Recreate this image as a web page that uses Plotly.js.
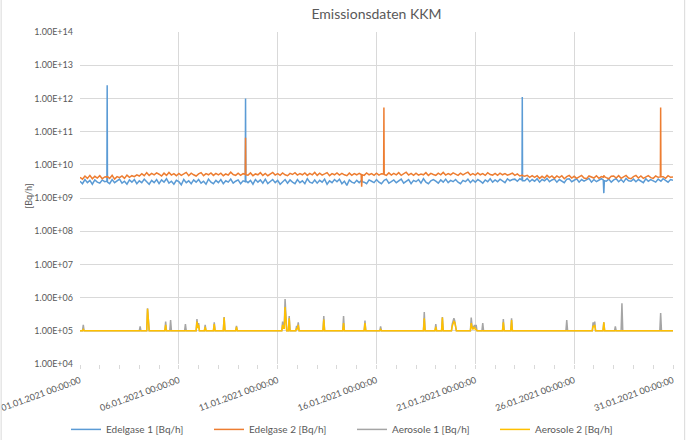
<!DOCTYPE html>
<html>
<head>
<meta charset="utf-8">
<script src="https://cdn.plot.ly/plotly-3.0.1.min.js"></script>
<style>
  html, body { margin: 0; padding: 0; background: #fff; }
  #chart { width: 690px; height: 440px; }
</style>
</head>
<body>
<div id="chart"></div>
<script>
'use strict';

// Edelgase: one reading every 3 hours from 01.01.2021 00:00 to 31.01.2021 00:00, in GBq/h
const edelStart = Date.UTC(2021, 0, 1);
const edelStepHours = 3;

const edelgase1GBq = [
	3.2, 2.7, 3.6, 2.9, 3.4, 2.6, 3.5, 3.0,
	2.8, 3.5, 3.1, 2500, 2.7, 3.6, 2.9, 3.3,
	3.7, 2.8, 3.2, 2.6, 3.5, 3.0, 3.6, 2.7,
	3.3, 2.9, 3.7, 3.1, 2.6, 3.4, 2.9, 3.6,
	2.7, 3.5, 3.0, 3.8, 2.8, 3.2, 2.6, 3.4,
	3.1, 2.5, 3.6, 2.9, 3.3, 2.7, 3.5, 3.0,
	3.6, 2.8, 3.2, 2.6, 3.7, 3.0, 2.7, 3.4,
	2.9, 3.6, 2.7, 3.3, 3.0, 3.7, 2.8, 3.2,
	3.5, 2.7, 3.3, 1000, 2.9, 3.4, 2.6, 3.6,
	3.0, 3.5, 2.8, 3.7, 2.7, 3.2, 3.6, 2.9,
	3.4, 2.6, 3.1, 3.6, 2.8, 3.5, 3.0, 2.7,
	3.6, 2.9, 3.3, 2.7, 3.8, 3.0, 2.8, 3.5,
	2.8, 3.4, 3.0, 3.7, 2.6, 3.3, 2.9, 3.6,
	3.1, 3.7, 2.7, 3.2, 2.4, 3.5, 3.0, 2.8,
	3.4, 2.9, 3.6, 3.0, 2.7, 3.5, 3.2, 2.9,
	3.6, 3.0, 2.7, 3.4, 3.7, 2.8, 3.1, 3.5,
	2.9, 3.3, 3.7, 2.8, 3.2, 3.6, 2.7, 3.4,
	3.1, 3.6, 2.8, 3.8, 3.0, 2.7, 3.3, 3.6,
	3.2, 2.8, 3.5, 3.0, 3.7, 2.9, 3.4, 3.1,
	3.6, 3.0, 2.7, 3.4, 3.1, 3.7, 2.9, 3.5,
	3.0, 3.6, 3.2, 2.8, 3.5, 3.1, 3.8, 3.0,
	3.5, 3.1, 3.7, 3.2, 2.9, 3.8, 3.3, 3.6,
	3.7, 3.2, 3.8, 1100, 3.3, 3.9, 3.1, 3.6,
	3.2, 3.8, 3.0, 3.6, 3.3, 3.9, 3.1, 3.5,
	3.7, 3.0, 3.6, 3.2, 2.9, 3.7, 3.8, 3.1,
	3.4, 3.8, 3.0, 3.6, 3.2, 3.5, 3.9, 3.0,
	3.6, 3.1, 3.5, 3.8, 1.4, 3.2, 3.7, 3.0,
	3.5, 3.8, 3.1, 3.6, 3.0, 3.9, 3.3, 3.2,
	3.7, 3.1, 3.6, 3.3, 2.9, 3.8, 3.2, 3.6,
	3.3, 3.0, 3.7, 3.2, 3.8, 3.4, 3.0, 3.6,
	3.4
];

const edelgase2GBq = [
	4.2, 3.7, 4.6, 3.9, 4.8, 3.8, 4.5, 4.0,
	4.7, 3.8, 4.3, 4.5, 3.9, 4.8, 3.7, 4.4,
	4.1, 4.6, 3.9, 4.9, 4.2, 4.7, 4.4, 5.0,
	4.6, 5.4, 4.7, 5.8, 4.8, 5.5, 5.0, 5.7,
	5.2, 4.6, 5.6, 4.8, 5.9, 4.9, 5.4, 4.7,
	5.5, 4.8, 5.3, 5.9, 4.7, 5.6, 5.0, 4.6,
	5.3, 5.8, 4.7, 5.4, 5.0, 5.7, 4.8, 5.5,
	5.0, 5.6, 4.7, 5.3, 4.9, 6.0, 5.1, 4.8,
	5.6, 4.8, 5.4, 65, 4.9, 5.7, 4.7, 5.3,
	5.0, 5.8, 4.8, 5.5, 4.7, 5.3, 5.9, 4.9,
	5.4, 4.8, 5.7, 5.0, 4.7, 5.5, 5.1, 5.8,
	4.9, 5.4, 5.0, 5.7, 4.8, 5.5, 5.0, 5.9,
	4.8, 5.6, 4.9, 5.3, 5.8, 4.7, 5.4, 5.0,
	5.7, 4.9, 5.5, 5.0, 4.7, 5.6, 4.8, 5.4,
	5.0, 5.5, 2.2, 4.8, 5.7, 5.0, 5.4, 4.8,
	5.6, 4.9, 5.4, 530, 4.8, 5.7, 4.9, 5.5,
	5.0, 5.8, 4.8, 5.4, 6.0, 4.9, 5.5, 4.8,
	5.6, 4.9, 5.3, 5.0, 5.8, 4.8, 5.5, 5.1,
	4.8, 5.6, 5.0, 5.9, 4.9, 5.4, 5.0, 5.7,
	5.1, 4.8, 5.6, 5.0, 5.5, 6.0, 4.9, 5.4,
	4.9, 5.7, 5.0, 5.4, 4.8, 5.8, 5.1, 4.9,
	5.5, 4.8, 5.6, 5.0, 5.4, 4.9, 5.2, 5.6,
	4.8, 5.3, 4.6, 4.9, 4.5, 4.8, 4.2, 4.7,
	4.2, 4.7, 3.9, 4.5, 4.0, 4.8, 4.1, 4.6,
	3.9, 4.6, 4.1, 4.7, 3.8, 4.4, 4.8, 4.0,
	4.5, 3.9, 4.3, 4.8, 4.0, 3.8, 4.6, 4.2,
	4.0, 4.7, 3.9, 4.4, 4.8, 4.1, 3.8, 4.5,
	4.6, 4.0, 4.7, 3.9, 4.3, 4.8, 4.0, 3.8,
	4.4, 4.8, 4.0, 4.6, 3.9, 4.3, 4.7, 4.1,
	3.9, 4.6, 4.2, 530, 4.4, 3.9, 4.7, 4.2,
	4.3
];

// extra readings just before and after the peaks and dips (they are short events)
const edelExtraTimes = [
	'2021-01-02 08:40', '2021-01-02 09:20', '2021-01-09 08:40', '2021-01-09 09:20',
	'2021-01-16 08:40', '2021-01-16 09:20', '2021-01-23 08:40', '2021-01-23 09:20',
	'2021-01-30 08:40', '2021-01-30 09:20', '2021-01-15 05:20', '2021-01-15 06:40',
	'2021-01-27 11:20', '2021-01-27 12:40'
];
const edelgase1ExtraGBq = [3.2, 3.0, 3.1, 3.3, 3.2, 3.4, 3.5, 3.3, 3.4, 3.2, 3.3, 3.1, 3.5, 3.3];
const edelgase2ExtraGBq = [4.3, 4.4, 5.2, 5.0, 5.3, 5.1, 4.9, 4.7, 4.3, 4.4, 5.1, 5.0, 4.2, 4.4];

// Aerosole: baseline 1.00E+05 with short peaks, Bq/h
const aerosolTimes = [
	'2021-01-01 00:00',
	'2021-01-01 03:00', '2021-01-01 04:00', '2021-01-01 05:00',
	'2021-01-04 00:00', '2021-01-04 01:00', '2021-01-04 02:00',
	'2021-01-04 09:00', '2021-01-04 10:00', '2021-01-04 11:00', '2021-01-04 12:00',
	'2021-01-05 07:00', '2021-01-05 08:00', '2021-01-05 09:00',
	'2021-01-05 13:00', '2021-01-05 14:00', '2021-01-05 15:00',
	'2021-01-06 07:00', '2021-01-06 08:00', '2021-01-06 09:00',
	'2021-01-06 21:00', '2021-01-06 22:00', '2021-01-06 23:00', '2021-01-07 00:00', '2021-01-07 01:00',
	'2021-01-07 07:00', '2021-01-07 08:00', '2021-01-07 09:00',
	'2021-01-07 18:00', '2021-01-07 19:00', '2021-01-07 20:00',
	'2021-01-08 06:00', '2021-01-08 07:00', '2021-01-08 08:00',
	'2021-01-08 21:00', '2021-01-08 22:00', '2021-01-08 23:00',
	'2021-01-11 05:00', '2021-01-11 06:00', '2021-01-11 07:00', '2021-01-11 08:00', '2021-01-11 09:00', '2021-01-11 10:00', '2021-01-11 11:00',
	'2021-01-11 13:00', '2021-01-11 14:00', '2021-01-11 15:00',
	'2021-01-11 22:00', '2021-01-11 23:00', '2021-01-12 00:00', '2021-01-12 01:00', '2021-01-12 02:00',
	'2021-01-13 07:00', '2021-01-13 08:00', '2021-01-13 09:00',
	'2021-01-14 07:00', '2021-01-14 08:00', '2021-01-14 09:00',
	'2021-01-15 09:00', '2021-01-15 10:00', '2021-01-15 11:00',
	'2021-01-16 04:00', '2021-01-16 05:00', '2021-01-16 06:00',
	'2021-01-18 09:00', '2021-01-18 10:00', '2021-01-18 11:00',
	'2021-01-18 23:00', '2021-01-19 00:00', '2021-01-19 01:00',
	'2021-01-19 07:00', '2021-01-19 08:00', '2021-01-19 09:00',
	'2021-01-19 19:00', '2021-01-19 20:00', '2021-01-19 21:00', '2021-01-19 22:00', '2021-01-19 23:00', '2021-01-20 00:00', '2021-01-20 01:00',
	'2021-01-20 18:00', '2021-01-20 19:00', '2021-01-20 20:00', '2021-01-20 21:00', '2021-01-20 22:00', '2021-01-20 23:00', '2021-01-21 00:00', '2021-01-21 01:00', '2021-01-21 02:00',
	'2021-01-21 08:00', '2021-01-21 09:00', '2021-01-21 10:00',
	'2021-01-22 09:00', '2021-01-22 10:00', '2021-01-22 11:00',
	'2021-01-22 19:00', '2021-01-22 20:00', '2021-01-22 21:00',
	'2021-01-25 14:00', '2021-01-25 15:00', '2021-01-25 16:00',
	'2021-01-26 22:00', '2021-01-26 23:00', '2021-01-27 00:00', '2021-01-27 01:00', '2021-01-27 02:00',
	'2021-01-27 11:00', '2021-01-27 12:00', '2021-01-27 13:00',
	'2021-01-28 01:00', '2021-01-28 02:00', '2021-01-28 03:00',
	'2021-01-28 09:00', '2021-01-28 10:00', '2021-01-28 11:00',
	'2021-01-30 08:00', '2021-01-30 09:00', '2021-01-30 10:00',
	'2021-01-31 00:00'
];

const aerosole1 = [
	1e5,
	1e5, 1.5e5, 1e5,
	1e5, 1.35e5, 1e5,
	1e5, 4.8e5, 2.2e5, 1e5,
	1e5, 1.9e5, 1e5,
	1e5, 2.1e5, 1e5,
	1e5, 1.6e5, 1e5,
	1e5, 2.25e5, 1.3e5, 1.7e5, 1e5,
	1e5, 1.5e5, 1e5,
	1e5, 1.8e5, 1e5,
	1e5, 2.6e5, 1e5,
	1e5, 1.4e5, 1e5,
	1e5, 1.9e5, 1.3e5, 1.4e5, 9e5, 2.5e5, 1e5,
	1e5, 2.8e5, 1e5,
	1e5, 1.4e5, 1.2e5, 1.8e5, 1e5,
	1e5, 2.8e5, 1e5,
	1e5, 2.8e5, 1e5,
	1e5, 2.05e5, 1e5,
	1e5, 1.35e5, 1e5,
	1e5, 3.65e5, 1e5,
	1e5, 1.6e5, 1e5,
	1e5, 2.6e5, 1e5,
	1e5, 1.6e5, 1.9e5, 2.4e5, 2.0e5, 1.5e5, 1e5,
	1e5, 2.5e5, 1.4e5, 1.2e5, 1.3e5, 1.5e5, 1.2e5, 1.5e5, 1e5,
	1e5, 1.7e5, 1e5,
	1e5, 2.25e5, 1e5,
	1e5, 2.4e5, 1e5,
	1e5, 2.1e5, 1e5,
	1e5, 1.8e5, 1.4e5, 1.9e5, 1e5,
	1e5, 1.8e5, 1e5,
	1e5, 1.35e5, 1e5,
	1e5, 6.8e5, 1e5,
	1e5, 3.4e5, 1e5,
	1e5
];

const aerosole2 = [
	1e5,
	1e5, 1.1e5, 1e5,
	1e5, 1e5, 1e5,
	1e5, 4.6e5, 2.0e5, 1e5,
	1e5, 1.5e5, 1e5,
	1e5, 1e5, 1e5,
	1e5, 1e5, 1e5,
	1e5, 1.9e5, 1.2e5, 1.5e5, 1e5,
	1e5, 1.3e5, 1e5,
	1e5, 1.6e5, 1e5,
	1e5, 2.5e5, 1e5,
	1e5, 1.3e5, 1e5,
	1e5, 1.5e5, 1.2e5, 1.2e5, 5.2e5, 2.0e5, 1e5,
	1e5, 2.4e5, 1e5,
	1e5, 1.2e5, 1.1e5, 1.5e5, 1e5,
	1e5, 2.2e5, 1e5,
	1e5, 1.7e5, 1e5,
	1e5, 1.7e5, 1e5,
	1e5, 1.1e5, 1e5,
	1e5, 2.4e5, 1e5,
	1e5, 1.3e5, 1e5,
	1e5, 2.5e5, 1e5,
	1e5, 1.4e5, 1.7e5, 1.9e5, 1.8e5, 1.4e5, 1e5,
	1e5, 1.7e5, 1.3e5, 1.1e5, 1.2e5, 1.3e5, 1.1e5, 1.1e5, 1e5,
	1e5, 1e5, 1e5,
	1e5, 1.8e5, 1e5,
	1e5, 2.1e5, 1e5,
	1e5, 1e5, 1e5,
	1e5, 1.4e5, 1.3e5, 1.5e5, 1e5,
	1e5, 1.8e5, 1e5,
	1e5, 1e5, 1e5,
	1e5, 1e5, 1e5,
	1e5, 1e5, 1e5,
	1e5
];

const seriesNames = ['Edelgase 1 [Bq/h]', 'Edelgase 2 [Bq/h]', 'Aerosole 1 [Bq/h]', 'Aerosole 2 [Bq/h]'];
const seriesColors = ['#5B9BD5', '#ED7D31', '#A5A5A5', '#FFC000'];

const yTickVals = [1e4, 1e5, 1e6, 1e7, 1e8, 1e9, 1e10, 1e11, 1e12, 1e13, 1e14];
const yTickText = ['1.00E+04', '1.00E+05', '1.00E+06', '1.00E+07', '1.00E+08', '1.00E+09',
	'1.00E+10', '1.00E+11', '1.00E+12', '1.00E+13', '1.00E+14'];

function edelTime(i)
{
	const d = new Date(edelStart + i * edelStepHours * 3600 * 1000);
	return d.toISOString().slice(0, 16).replace('T', ' ');
}

// regular readings plus the extra ones, sorted by time, converted from GBq/h to Bq/h
function edelSeries(values, extras)
{
	const rows = values.map(function(v, i) { return [edelTime(i), v]; });
	edelExtraTimes.forEach(function(t, i) { rows.push([t, extras[i]]); });
	rows.sort(function(a, b) { return a[0] < b[0] ? -1 : (a[0] > b[0] ? 1 : 0); });
	return {
		x: rows.map(function(r) { return r[0]; }),
		y: rows.map(function(r) { return r[1] * 1e9; })
	};
}

const textColor = '#595959', gridColor = '#D9D9D9', fontFamily = 'Lato, "Open Sans", sans-serif';

const traces = [
	edelSeries(edelgase1GBq, edelgase1ExtraGBq),
	edelSeries(edelgase2GBq, edelgase2ExtraGBq),
	{x: aerosolTimes, y: aerosole1},
	{x: aerosolTimes, y: aerosole2},
].map(function(t, i) {
	t.type = 'scatter';
	t.mode = 'lines';
	t.name = seriesNames[i];
	t.line = {color: seriesColors[i], width: 1.5};
	return t;
});

const layout = {
	width: 690,
	height: 440,
	margin: {l: 80, r: 17, t: 32, b: 76, autoexpand: false},
	paper_bgcolor: '#fff',
	plot_bgcolor: '#fff',
	font: {family: fontFamily, color: textColor, size: 9},
	title: {
		text: 'Emissionsdaten KKM',
		font: {family: fontFamily, size: 14, color: textColor},
		x: 0.5, xref: 'paper', xanchor: 'center',
		y: 0.968, yref: 'container', yanchor: 'middle'
	},
	xaxis: {
		type: 'date',
		range: ['2021-01-01 00:00', '2021-01-31 00:00'],
		tick0: '2021-01-01',
		dtick: 5 * 86400000,
		tickformat: '%d.%m.%Y %H:%M:%S',
		tickangle: -20,
		ticks: 'outside',
		ticklen: 4,
		tickcolor: gridColor,
		tickfont: {size: 9, color: textColor},
		ticklabelstandoff: 3,
		ticklabeloverflow: 'allow',
		showgrid: true,
		gridcolor: gridColor,
		gridwidth: 1,
		zeroline: false,
		showline: false,
		minor: {dtick: 86400000, ticks: 'outside', ticklen: 4, tickcolor: gridColor, showgrid: false},
		automargin: false
	},
	yaxis: {
		type: 'log',
		range: [4, 14],
		tickvals: yTickVals,
		ticktext: yTickText,
		tickfont: {size: 9, color: textColor},
		ticklabelstandoff: 6,
		showgrid: true,
		gridcolor: gridColor,
		gridwidth: 1,
		zeroline: false,
		showline: false,
		automargin: false
	},
	annotations: [{
		text: '[Bq/h]', textangle: -90, showarrow: false,
		xref: 'paper', yref: 'paper', x: -0.0885, y: 0.506,
		xanchor: 'center', yanchor: 'middle',
		font: {size: 9, color: textColor}
	}],
	showlegend: true,
	legend: {
		orientation: 'h',
		x: -0.0236, xanchor: 'left',
		y: -0.197, yanchor: 'middle',
		entrywidth: 98,
		font: {size: 10, color: textColor},
		bgcolor: 'rgba(0,0,0,0)'
	},
	shapes: [
		{type: 'line', xref: 'paper', yref: 'paper', x0: -0.133, x1: -0.133, y0: -0.3, y1: 1.2, line: {color: gridColor, width: 1}},
		{type: 'line', xref: 'paper', yref: 'paper', x0: 1.0197, x1: 1.0197, y0: -0.3, y1: 1.2, line: {color: gridColor, width: 1}}
	]
};

Plotly.newPlot('chart', traces, layout, {staticPlot: true, displayModeBar: false});
</script>
</body>
</html>
